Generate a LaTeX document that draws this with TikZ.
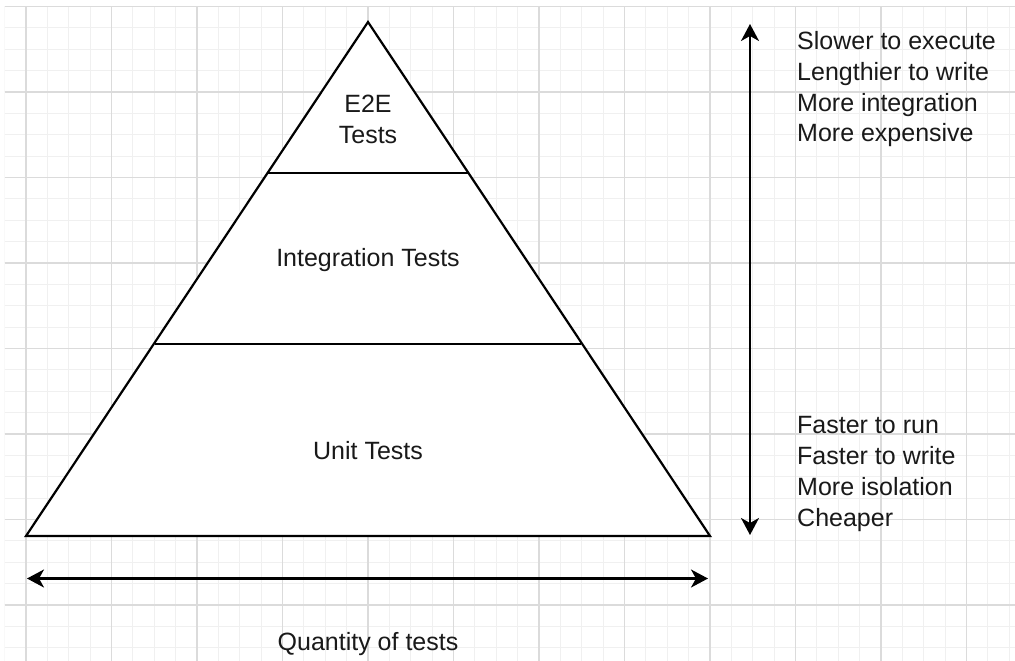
\documentclass[tikz,border=0pt]{standalone}
\usepackage{fontspec}
\setmainfont{Liberation Sans}
\usetikzlibrary{arrows.meta}
\begin{document}
\begin{tikzpicture}[x=1pt,y=-1pt,
  shape line/.style={line width=2.2pt, line join=miter},
  dblarr/.style={line width=2.2pt, {Stealth[length=17pt,width=18pt,inset=5pt]}-{Stealth[length=17pt,width=18pt,inset=5pt]}},
  lbl/.style={font=\fontsize{25}{30.7}\selectfont, inner sep=0pt, text=black!90},
  side/.style={font=\fontsize{25}{30.7}\selectfont, inner sep=0pt, align=left, anchor=base west, text=black!90}
]
\useasboundingbox (0,0) rectangle (1015,661);
\fill[white] (0,0) rectangle (1015,661);
% grid
\begin{scope}
\clip (4.6,6.5) rectangle (1015,661);
\foreach \i in {0,...,48} {
  \draw[color=black!6, line width=1.2pt] ({4.6+21.375*\i},6.5) -- ({4.6+21.375*\i},661);
}
\foreach \j in {0,...,31} {
  \draw[color=black!6, line width=1.2pt] (4.6,{6.5+21.375*\j}) -- (1015,{6.5+21.375*\j});
}
\foreach \i in {0,...,11} {
  \draw[color=black!14, line width=1.2pt] ({26+85.5*\i},6.5) -- ({26+85.5*\i},661);
}
\foreach \j in {0,...,7} {
  \draw[color=black!14, line width=1.2pt] (4.6,{6.5+85.5*\j}) -- (1015,{6.5+85.5*\j});
}
\end{scope}
% pyramid
\coordinate (apex) at (368,22);
\coordinate (bl) at (26,536);
\coordinate (br) at (710,536);
\coordinate (l1) at (267.5,173);
\coordinate (r1) at (468.5,173);
\coordinate (l2) at (154.7,344);
\coordinate (r2) at (581.3,344);
\filldraw[shape line, fill=white] (apex) -- (br) -- (bl) -- cycle;
\draw[shape line] (l1) -- (r1);
\draw[shape line] (l2) -- (r2);
\node[lbl, anchor=base] (e2e) at (368,112) {E2E};
\node[lbl, anchor=base] (e2et) at (368,143) {Tests};
\node[lbl, anchor=base] (integ) at (368,266) {Integration Tests};
\node[lbl, anchor=base] (unit) at (368,459) {Unit Tests};
% arrows
\coordinate (vtop) at (750,24);
\coordinate (vbot) at (750,535);
\coordinate (hl) at (27,578.5);
\coordinate (hr) at (708,578.5);
\draw[dblarr] (vbot) -- (vtop);
\draw[dblarr] (hl) -- (hr);
\node[lbl, anchor=base] (qty) at (368,650) {Quantity of tests};
\node[side] (top) at (797,141.8) {Slower to execute\\Lengthier to write\\More integration\\More expensive};
\node[side] (bot) at (797,526) {Faster to run\\Faster to write\\More isolation\\Cheaper};
\end{tikzpicture}
\end{document}
